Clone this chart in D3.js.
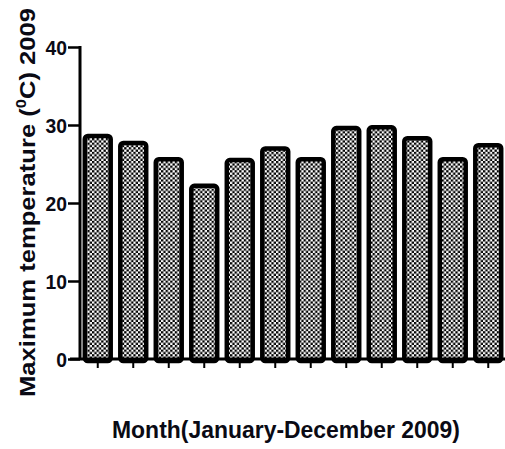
<!DOCTYPE html>
<html>
<head>
<meta charset="utf-8">
<script src="https://cdn.jsdelivr.net/npm/d3@7"></script>
<style>
  html, body { margin: 0; padding: 0; background: #fff; }
  svg { display: block; }
  text { font-family: "Liberation Sans", Arial, sans-serif; font-weight: bold; fill: #0a0a14; }
</style>
</head>
<body>
<svg id="chart" width="505" height="449"></svg>
<script>
// Monthly maximum temperature, 2009
const months = ["Jan", "Feb", "Mar", "Apr", "May", "Jun", "Jul", "Aug", "Sep", "Oct", "Nov", "Dec"];
const maxTemp = [28.6, 27.7, 25.6, 22.2, 25.5, 27.0, 25.6, 29.6, 29.7, 28.3, 25.6, 27.4];
const yTicks = [0, 10, 20, 30, 40];

const svg = d3.select("#chart");
const plotLeft = 80, plotRight = 506, plotTop = 47, plotBottom = 359;

const x = d3.scaleBand().domain(months).range([plotLeft, plotRight]).paddingInner(0.27).paddingOuter(0.135);
const y = d3.scaleLinear().domain([0, 40]).range([plotBottom, plotTop]);

// Checkerboard fill for the bars
const defs = svg.append("defs");
const pat = defs.append("pattern")
  .attr("id", "checks").attr("patternUnits", "userSpaceOnUse")
  .attr("width", 4.6).attr("height", 4.6);
pat.append("rect").attr("width", 4.6).attr("height", 4.6).attr("fill", "#fff");
pat.append("rect").attr("width", 2.3).attr("height", 2.3).attr("fill", "#000");
pat.append("rect").attr("x", 2.3).attr("y", 2.3).attr("width", 2.3).attr("height", 2.3).attr("fill", "#000");

// Bars
svg.append("g").selectAll("rect").data(months).join("rect")
  .attr("x", d => x(d))
  .attr("y", (d, i) => y(maxTemp[i]))
  .attr("width", x.bandwidth())
  .attr("height", (d, i) => y(0) - y(maxTemp[i]) + 2)
  .attr("rx", 3)
  .attr("fill", "url(#checks)")
  .attr("stroke", "#000")
  .attr("stroke-width", 4.5);

// Y axis: line and ticks from d3.axisLeft, labels drawn as a separate group
const tickLen = 12;
const yAxis = svg.append("g").attr("transform", `translate(${plotLeft},0)`)
  .call(d3.axisLeft(y).tickValues(yTicks).tickSize(tickLen).tickFormat(""));
yAxis.select(".domain").attr("stroke", "#000").attr("stroke-width", 3).attr("d", `M0,${plotTop - 1}V${plotBottom}`);
yAxis.selectAll(".tick line").attr("stroke", "#000").attr("stroke-width", 2.5);

svg.append("g").selectAll("text").data(yTicks).join("text")
  .attr("transform", d => `translate(${plotLeft - tickLen - 1},${y(d) + 7.5}) scale(0.92,1)`)
  .attr("text-anchor", "end")
  .style("font-size", "21px")
  .text(d => d3.format("d")(d));

// X axis (tick marks hang below the baseline, no labels)
const xAxis = svg.append("g").attr("transform", `translate(0,${plotBottom})`)
  .call(d3.axisBottom(x).tickSize(9).tickFormat(""));
xAxis.select(".domain").attr("stroke", "#000").attr("stroke-width", 3).attr("d", `M${plotLeft - 10},0H505`);
xAxis.selectAll(".tick line").attr("stroke", "#000").attr("stroke-width", 2);

// Axis titles
svg.append("text")
  .attr("x", 286).attr("y", 438)
  .attr("text-anchor", "middle")
  .style("font-size", "23px")
  .attr("textLength", 348).attr("lengthAdjust", "spacingAndGlyphs")
  .text("Month(January-December 2009)");

const yt = svg.append("text")
  .attr("transform", "translate(35,202.5) rotate(-90)")
  .attr("text-anchor", "middle")
  .style("font-size", "22px")
  .attr("textLength", 389).attr("lengthAdjust", "spacingAndGlyphs");
yt.append("tspan").text("Maximum temperature (");
yt.append("tspan").style("font-size", "14px").attr("dy", -9).text("0");
yt.append("tspan").attr("dy", 9).text("C) 2009");
</script>
</body>
</html>
